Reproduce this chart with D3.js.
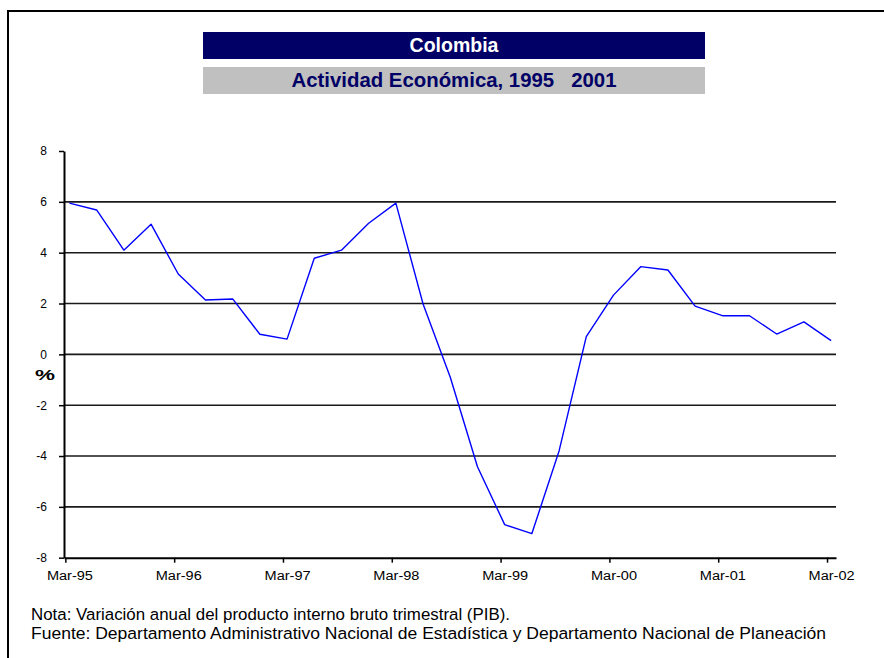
<!DOCTYPE html>
<html>
<head>
<meta charset="utf-8">
<script src="https://cdn.jsdelivr.net/npm/d3@7"></script>
<style>
  html, body { margin: 0; padding: 0; background: #fff; }
  svg { display: block; }
  text { font-family: "Liberation Sans", Arial, sans-serif; }
</style>
</head>
<body>
<svg id="chart" width="884" height="658"></svg>
<script>
// ---- data ----
const quarters = [
  "Mar-95","Jun-95","Sep-95","Dec-95",
  "Mar-96","Jun-96","Sep-96","Dec-96",
  "Mar-97","Jun-97","Sep-97","Dec-97",
  "Mar-98","Jun-98","Sep-98","Dec-98",
  "Mar-99","Jun-99","Sep-99","Dec-99",
  "Mar-00","Jun-00","Sep-00","Dec-00",
  "Mar-01","Jun-01","Sep-01","Dec-01",
  "Mar-02"
];
const pib = [
  5.95, 5.68, 4.10, 5.12,
  3.16, 2.14, 2.18, 0.79,
  0.60, 3.78, 4.10, 5.16,
  5.95, 1.98, -0.90, -4.42,
  -6.70, -7.05, -3.80, 0.70,
  2.33, 3.45, 3.32, 1.90,
  1.52, 1.52, 0.80, 1.28,
  0.54
];
const xTickLabels = ["Mar-95","Mar-96","Mar-97","Mar-98","Mar-99","Mar-00","Mar-01","Mar-02"];
const yTicks = [-8, -6, -4, -2, 0, 2, 4, 6, 8];
const gridValues = [-6, -4, -2, 0, 2, 4, 6];
const title = "Colombia";
const subtitle = "Actividad Económica, 1995   2001";
const yLabel = "%";
const notes = [
  "Nota: Variación anual del producto interno bruto trimestral (PIB).",
  "Fuente: Departamento Administrativo Nacional de Estadística y Departamento Nacional de Planeación"
];

// ---- drawing ----
const svg = d3.select("#chart");
const navy = "#000066";

// frame
svg.append("rect")
  .attr("x", 8).attr("y", 11)
  .attr("width", 1000).attr("height", 800)
  .attr("fill", "none").attr("stroke", "#000").attr("stroke-width", 2);

// title boxes
svg.append("rect").attr("x", 203).attr("y", 32).attr("width", 502).attr("height", 27).attr("fill", navy);
svg.append("rect").attr("x", 203).attr("y", 67).attr("width", 502).attr("height", 27).attr("fill", "#c0c0c0");
svg.append("text").attr("x", 454).attr("y", 51.5).attr("text-anchor", "middle")
  .attr("fill", "#fff").attr("font-weight", "bold").attr("font-size", "19.5px")
  .text(title);
svg.append("text").attr("x", 454).attr("y", 87).attr("text-anchor", "middle")
  .attr("fill", navy).attr("font-weight", "bold").attr("font-size", "19.5px")
  .style("white-space", "pre")
  .attr("textLength", 325).attr("lengthAdjust", "spacingAndGlyphs")
  .text(subtitle);

// scales
const x = d3.scaleLinear().domain([-0.2, 28.18]).range([64, 836]);
const y = d3.scaleLinear().domain([-8, 8]).range([557.7, 151]);

// gridlines
svg.append("g").selectAll("line").data(gridValues).join("line")
  .attr("x1", x(-0.2)).attr("x2", x(28.18))
  .attr("y1", d => y(d)).attr("y2", d => y(d))
  .attr("stroke", "#1a1a1a").attr("stroke-width", 1.6);

// y axis
const yAxis = svg.append("g").attr("transform", `translate(${x(-0.2)},0)`)
  .call(d3.axisLeft(y).tickValues(yTicks).tickSize(5).tickSizeOuter(0).tickPadding(12).tickFormat(d => String(d)));
yAxis.select(".domain").attr("stroke", "#000").attr("stroke-width", 2);
yAxis.selectAll(".tick line").attr("stroke", "#000").attr("stroke-width", 1.5);
yAxis.selectAll(".tick text").attr("font-size", "12px").attr("fill", "#000")
  .attr("font-family", "'Liberation Sans', Arial, sans-serif");

// x axis: tick marks slightly left of the labels
const tickIdx = d3.range(0, quarters.length, 4);
const xAxisTicks = svg.append("g").attr("transform", `translate(0,${y(-8)})`)
  .call(d3.axisBottom(x).tickValues(tickIdx.map(i => i - 0.15)).tickSize(5).tickSizeOuter(0).tickFormat(""));
xAxisTicks.select(".domain").attr("stroke", "#000").attr("stroke-width", 2);
xAxisTicks.selectAll(".tick line").attr("stroke", "#000").attr("stroke-width", 1.5);

const xAxisLabels = svg.append("g").attr("transform", `translate(0,${y(-8)})`)
  .call(d3.axisBottom(x).tickValues(tickIdx).tickSize(0).tickPadding(13).tickFormat((d, k) => xTickLabels[k]));
xAxisLabels.select(".domain").remove();
xAxisLabels.selectAll(".tick text").attr("font-size", "12.5px").attr("fill", "#000")
  .attr("font-family", "'Liberation Sans', Arial, sans-serif")
  .attr("textLength", 46).attr("lengthAdjust", "spacingAndGlyphs");

// y label
svg.append("text").attr("x", 45).attr("y", 380).attr("text-anchor", "middle")
  .attr("font-weight", "bold").attr("font-size", "15px")
  .attr("textLength", 20).attr("lengthAdjust", "spacingAndGlyphs")
  .text(yLabel);

// line
const line = d3.line().x((d, i) => x(i)).y(d => y(d));
svg.append("path").datum(pib)
  .attr("d", line)
  .attr("fill", "none").attr("stroke", "#0000ff").attr("stroke-width", 1.4)
  .attr("stroke-linejoin", "round");

// notes
const noteWidths = [479, 795];
svg.append("g").selectAll("text").data(notes).join("text")
  .attr("x", 31).attr("y", (d, i) => 620 + i * 18.5)
  .attr("font-size", "17.2px").attr("fill", "#000")
  .attr("textLength", (d, i) => noteWidths[i]).attr("lengthAdjust", "spacingAndGlyphs")
  .text(d => d);
</script>
</body>
</html>
